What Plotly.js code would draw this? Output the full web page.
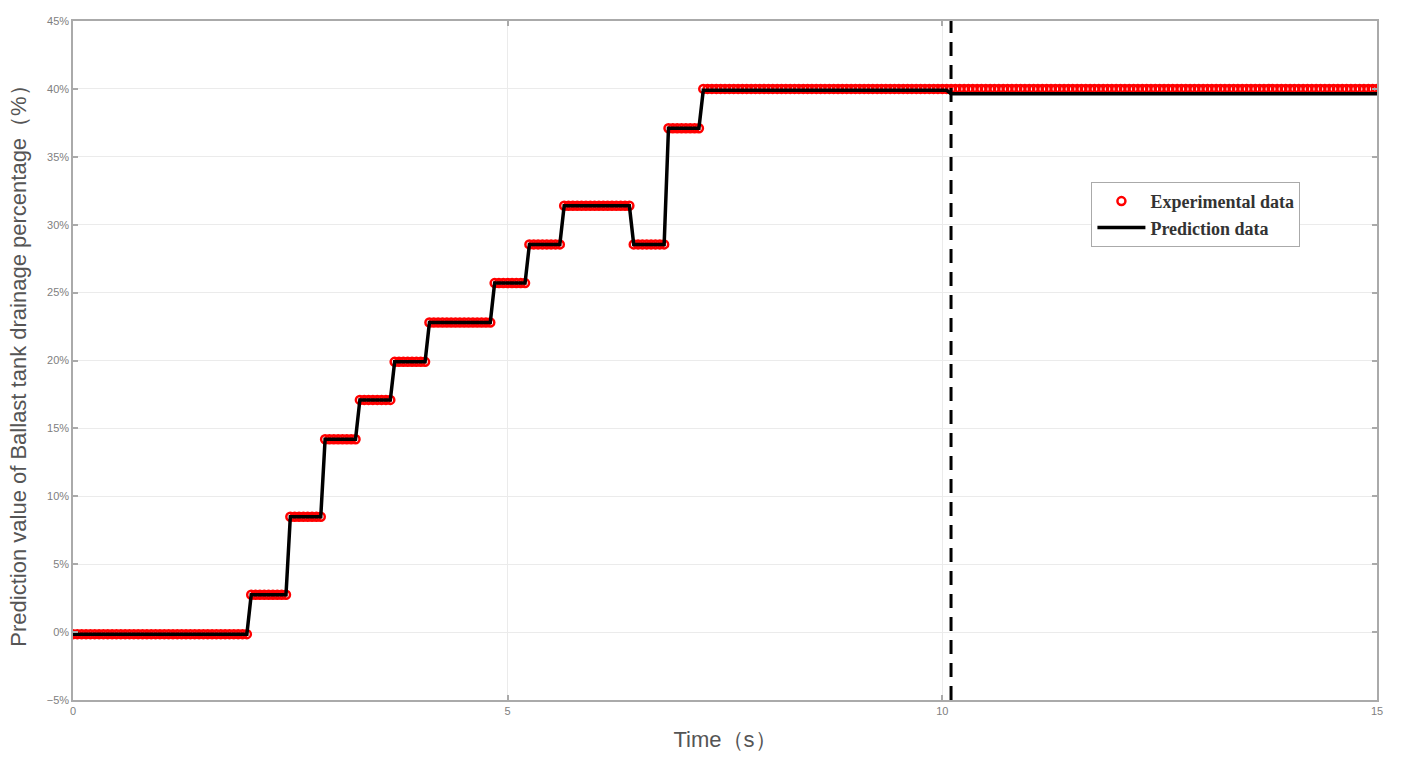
<!DOCTYPE html>
<html>
<head>
<meta charset="utf-8">
<script src="https://cdn.plot.ly/plotly-3.0.1.min.js"></script>
<style>
  html, body { margin: 0; padding: 0; background: #fff; }
  #chart { width: 1401px; height: 761px; }
</style>
</head>
<body>
<div id="chart"></div>
<script>
// sample times (s), 0.05 s apart
let timeS = [
  0, 0.05, 0.1, 0.15, 0.2, 0.25, 0.3, 0.35, 0.4, 0.45, 0.5, 0.55, 0.6, 0.65, 0.7, 0.75, 0.8, 0.85, 0.9, 0.95,
  1, 1.05, 1.1, 1.15, 1.2, 1.25, 1.3, 1.35, 1.4, 1.45, 1.5, 1.55, 1.6, 1.65, 1.7, 1.75, 1.8, 1.85, 1.9, 1.95,
  2, 2.05, 2.1, 2.15, 2.2, 2.25, 2.3, 2.35, 2.4, 2.45, 2.5, 2.55, 2.6, 2.65, 2.7, 2.75, 2.8, 2.85, 2.9, 2.95,
  3, 3.05, 3.1, 3.15, 3.2, 3.25, 3.3, 3.35, 3.4, 3.45, 3.5, 3.55, 3.6, 3.65, 3.7, 3.75, 3.8, 3.85, 3.9, 3.95,
  4, 4.05, 4.1, 4.15, 4.2, 4.25, 4.3, 4.35, 4.4, 4.45, 4.5, 4.55, 4.6, 4.65, 4.7, 4.75, 4.8, 4.85, 4.9, 4.95,
  5, 5.05, 5.1, 5.15, 5.2, 5.25, 5.3, 5.35, 5.4, 5.45, 5.5, 5.55, 5.6, 5.65, 5.7, 5.75, 5.8, 5.85, 5.9, 5.95,
  6, 6.05, 6.1, 6.15, 6.2, 6.25, 6.3, 6.35, 6.4, 6.45, 6.5, 6.55, 6.6, 6.65, 6.7, 6.75, 6.8, 6.85, 6.9, 6.95,
  7, 7.05, 7.1, 7.15, 7.2, 7.25, 7.3, 7.35, 7.4, 7.45, 7.5, 7.55, 7.6, 7.65, 7.7, 7.75, 7.8, 7.85, 7.9, 7.95,
  8, 8.05, 8.1, 8.15, 8.2, 8.25, 8.3, 8.35, 8.4, 8.45, 8.5, 8.55, 8.6, 8.65, 8.7, 8.75, 8.8, 8.85, 8.9, 8.95,
  9, 9.05, 9.1, 9.15, 9.2, 9.25, 9.3, 9.35, 9.4, 9.45, 9.5, 9.55, 9.6, 9.65, 9.7, 9.75, 9.8, 9.85, 9.9, 9.95,
  10, 10.05, 10.1, 10.15, 10.2, 10.25, 10.3, 10.35, 10.4, 10.45, 10.5, 10.55, 10.6, 10.65, 10.7, 10.75, 10.8, 10.85, 10.9, 10.95,
  11, 11.05, 11.1, 11.15, 11.2, 11.25, 11.3, 11.35, 11.4, 11.45, 11.5, 11.55, 11.6, 11.65, 11.7, 11.75, 11.8, 11.85, 11.9, 11.95,
  12, 12.05, 12.1, 12.15, 12.2, 12.25, 12.3, 12.35, 12.4, 12.45, 12.5, 12.55, 12.6, 12.65, 12.7, 12.75, 12.8, 12.85, 12.9, 12.95,
  13, 13.05, 13.1, 13.15, 13.2, 13.25, 13.3, 13.35, 13.4, 13.45, 13.5, 13.55, 13.6, 13.65, 13.7, 13.75, 13.8, 13.85, 13.9, 13.95,
  14, 14.05, 14.1, 14.15, 14.2, 14.25, 14.3, 14.35, 14.4, 14.45, 14.5, 14.55, 14.6, 14.65, 14.7, 14.75, 14.8, 14.85, 14.9, 14.95,
  15
];

// experimental drainage percentage (%)
let experimental = [
  -0.15, -0.15, -0.15, -0.15, -0.15, -0.15, -0.15, -0.15, -0.15, -0.15, -0.15, -0.15, -0.15, -0.15, -0.15, -0.15, -0.15, -0.15, -0.15, -0.15,
  -0.15, -0.15, -0.15, -0.15, -0.15, -0.15, -0.15, -0.15, -0.15, -0.15, -0.15, -0.15, -0.15, -0.15, -0.15, -0.15, -0.15, -0.15, -0.15, -0.15,
  -0.15, 2.75, 2.75, 2.75, 2.75, 2.75, 2.75, 2.75, 2.75, 2.75, 8.5, 8.5, 8.5, 8.5, 8.5, 8.5, 8.5, 8.5, 14.2, 14.2,
  14.2, 14.2, 14.2, 14.2, 14.2, 14.2, 17.1, 17.1, 17.1, 17.1, 17.1, 17.1, 17.1, 17.1, 19.9, 19.9, 19.9, 19.9, 19.9, 19.9,
  19.9, 19.9, 22.8, 22.8, 22.8, 22.8, 22.8, 22.8, 22.8, 22.8, 22.8, 22.8, 22.8, 22.8, 22.8, 22.8, 22.8, 25.7, 25.7, 25.7,
  25.7, 25.7, 25.7, 25.7, 25.7, 28.55, 28.55, 28.55, 28.55, 28.55, 28.55, 28.55, 28.55, 31.4, 31.4, 31.4, 31.4, 31.4, 31.4, 31.4,
  31.4, 31.4, 31.4, 31.4, 31.4, 31.4, 31.4, 31.4, 31.4, 28.55, 28.55, 28.55, 28.55, 28.55, 28.55, 28.55, 28.55, 37.1, 37.1, 37.1,
  37.1, 37.1, 37.1, 37.1, 37.1, 40, 40, 40, 40, 40, 40, 40, 40, 40, 40, 40, 40, 40, 40, 40,
  40, 40, 40, 40, 40, 40, 40, 40, 40, 40, 40, 40, 40, 40, 40, 40, 40, 40, 40, 40,
  40, 40, 40, 40, 40, 40, 40, 40, 40, 40, 40, 40, 40, 40, 40, 40, 40, 40, 40, 40,
  40, 40, 40, 40, 40, 40, 40, 40, 40, 40, 40, 40, 40, 40, 40, 40, 40, 40, 40, 40,
  40, 40, 40, 40, 40, 40, 40, 40, 40, 40, 40, 40, 40, 40, 40, 40, 40, 40, 40, 40,
  40, 40, 40, 40, 40, 40, 40, 40, 40, 40, 40, 40, 40, 40, 40, 40, 40, 40, 40, 40,
  40, 40, 40, 40, 40, 40, 40, 40, 40, 40, 40, 40, 40, 40, 40, 40, 40, 40, 40, 40,
  40, 40, 40, 40, 40, 40, 40, 40, 40, 40, 40, 40, 40, 40, 40, 40, 40, 40, 40, 40,
  40
];

// predicted drainage percentage (%)
let prediction = [
  -0.15, -0.15, -0.15, -0.15, -0.15, -0.15, -0.15, -0.15, -0.15, -0.15, -0.15, -0.15, -0.15, -0.15, -0.15, -0.15, -0.15, -0.15, -0.15, -0.15,
  -0.15, -0.15, -0.15, -0.15, -0.15, -0.15, -0.15, -0.15, -0.15, -0.15, -0.15, -0.15, -0.15, -0.15, -0.15, -0.15, -0.15, -0.15, -0.15, -0.15,
  -0.15, 2.75, 2.75, 2.75, 2.75, 2.75, 2.75, 2.75, 2.75, 2.75, 8.5, 8.5, 8.5, 8.5, 8.5, 8.5, 8.5, 8.5, 14.2, 14.2,
  14.2, 14.2, 14.2, 14.2, 14.2, 14.2, 17.1, 17.1, 17.1, 17.1, 17.1, 17.1, 17.1, 17.1, 19.9, 19.9, 19.9, 19.9, 19.9, 19.9,
  19.9, 19.9, 22.8, 22.8, 22.8, 22.8, 22.8, 22.8, 22.8, 22.8, 22.8, 22.8, 22.8, 22.8, 22.8, 22.8, 22.8, 25.7, 25.7, 25.7,
  25.7, 25.7, 25.7, 25.7, 25.7, 28.55, 28.55, 28.55, 28.55, 28.55, 28.55, 28.55, 28.55, 31.4, 31.4, 31.4, 31.4, 31.4, 31.4, 31.4,
  31.4, 31.4, 31.4, 31.4, 31.4, 31.4, 31.4, 31.4, 31.4, 28.55, 28.55, 28.55, 28.55, 28.55, 28.55, 28.55, 28.55, 37.1, 37.1, 37.1,
  37.1, 37.1, 37.1, 37.1, 37.1, 39.9, 39.9, 39.9, 39.9, 39.9, 39.9, 39.9, 39.9, 39.9, 39.9, 39.9, 39.9, 39.9, 39.9, 39.9,
  39.9, 39.9, 39.9, 39.9, 39.9, 39.9, 39.9, 39.9, 39.9, 39.9, 39.9, 39.9, 39.9, 39.9, 39.9, 39.9, 39.9, 39.9, 39.9, 39.9,
  39.9, 39.9, 39.9, 39.9, 39.9, 39.9, 39.9, 39.9, 39.9, 39.9, 39.9, 39.9, 39.9, 39.9, 39.9, 39.9, 39.9, 39.9, 39.9, 39.9,
  39.9, 39.9, 39.65, 39.65, 39.65, 39.65, 39.65, 39.65, 39.65, 39.65, 39.65, 39.65, 39.65, 39.65, 39.65, 39.65, 39.65, 39.65, 39.65, 39.65,
  39.65, 39.65, 39.65, 39.65, 39.65, 39.65, 39.65, 39.65, 39.65, 39.65, 39.65, 39.65, 39.65, 39.65, 39.65, 39.65, 39.65, 39.65, 39.65, 39.65,
  39.65, 39.65, 39.65, 39.65, 39.65, 39.65, 39.65, 39.65, 39.65, 39.65, 39.65, 39.65, 39.65, 39.65, 39.65, 39.65, 39.65, 39.65, 39.65, 39.65,
  39.65, 39.65, 39.65, 39.65, 39.65, 39.65, 39.65, 39.65, 39.65, 39.65, 39.65, 39.65, 39.65, 39.65, 39.65, 39.65, 39.65, 39.65, 39.65, 39.65,
  39.65, 39.65, 39.65, 39.65, 39.65, 39.65, 39.65, 39.65, 39.65, 39.65, 39.65, 39.65, 39.65, 39.65, 39.65, 39.65, 39.65, 39.65, 39.65, 39.65,
  39.65
];

// time where the prediction takes over (dashed marker)
let switchTime = 10.1;

let expTrace = {
  x: timeS,
  y: experimental,
  name: 'Experimental data',
  mode: 'markers',
  type: 'scatter',
  marker: {
    symbol: 'circle-open',
    size: 8,
    color: '#ff0000',
    line: { color: '#ff0000', width: 2.5 }
  }
};

let predTrace = {
  x: timeS,
  y: prediction,
  name: 'Prediction data',
  mode: 'lines',
  type: 'scatter',
  line: { color: '#000000', width: 3.5 }
};

let axisCommon = {
  showline: true,
  linecolor: '#aaaaaa',
  linewidth: 1.5,
  mirror: 'ticks',
  ticks: 'inside',
  ticklen: 5,
  tickwidth: 1.5,
  tickcolor: '#aaaaaa',
  showgrid: true,
  gridcolor: '#ebebeb',
  gridwidth: 1,
  zeroline: false,
  tickfont: { family: 'Liberation Sans, Arial, sans-serif', size: 11, color: '#808080' }
};

let layout = {
  width: 1401,
  height: 761,
  margin: { l: 73, r: 24, t: 21, b: 61 },
  paper_bgcolor: '#ffffff',
  plot_bgcolor: '#ffffff',
  showlegend: true,
  xaxis: Object.assign({}, axisCommon, {
    range: [0, 15],
    dtick: 5,
    tick0: 0,
    title: {
      text: 'Time（s）',
      font: { family: 'Liberation Sans, Arial, sans-serif', size: 22, color: '#555555' },
      standoff: 16
    }
  }),
  yaxis: Object.assign({}, axisCommon, {
    range: [-5, 45],
    dtick: 5,
    tick0: 0,
    ticksuffix: '%',
    title: {
      text: 'Prediction value of Ballast tank drainage percentage（%）',
      font: { family: 'Liberation Sans, Arial, sans-serif', size: 22, color: '#555555' },
      standoff: 14
    }
  }),
  legend: {
    x: 0.781,
    y: 0.763,
    xanchor: 'left',
    yanchor: 'top',
    bgcolor: '#ffffff',
    bordercolor: '#aaaaaa',
    borderwidth: 1,
    itemwidth: 48,
    tracegroupgap: 0,
    font: { family: 'Liberation Serif, Times New Roman, serif', size: 18, color: '#333333', weight: 'bold' }
  },
  shapes: [
    {
      type: 'line',
      xref: 'x',
      yref: 'paper',
      x0: switchTime,
      x1: switchTime,
      y0: 0,
      y1: 1,
      line: { color: '#000000', width: 3, dash: '14px,9px' }
    }
  ]
};

Plotly.newPlot('chart', [expTrace, predTrace], layout, { displayModeBar: false });
</script>
</body>
</html>
